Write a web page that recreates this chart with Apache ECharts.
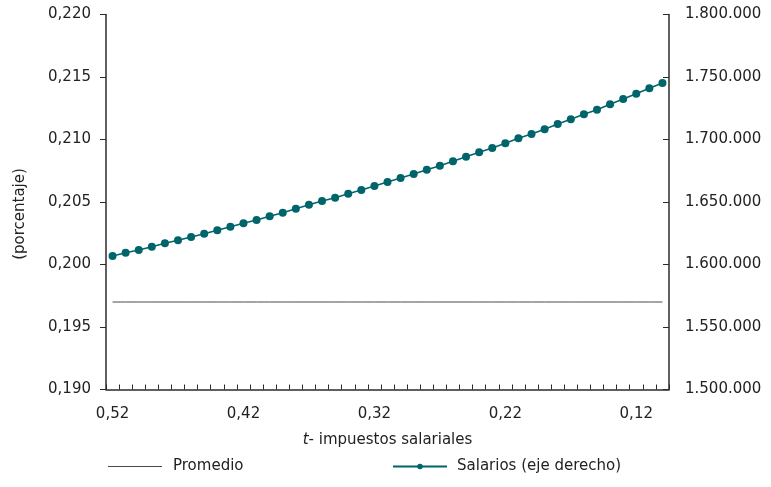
<!DOCTYPE html>
<html>
<head>
<meta charset="utf-8">
<script src="https://cdn.jsdelivr.net/npm/echarts@6/dist/echarts.min.js"></script>
<style>
  html, body { margin: 0; padding: 0; background: #fff; }
  #chart { width: 771px; height: 487px; }
</style>
</head>
<body>
<div id="chart"></div>
<script>
// tax rate categories (t), read right-to-left from 0,52 down to 0,10
var tasas = [
  "0,52", "0,51", "0,50", "0,49", "0,48", "0,47", "0,46", "0,45", "0,44", "0,43",
  "0,42", "0,41", "0,40", "0,39", "0,38", "0,37", "0,36", "0,35", "0,34", "0,33",
  "0,32", "0,31", "0,30", "0,29", "0,28", "0,27", "0,26", "0,25", "0,24", "0,23",
  "0,22", "0,21", "0,20", "0,19", "0,18", "0,17", "0,16", "0,15", "0,14", "0,13",
  "0,12", "0,11", "0,10"
];

// "Promedio" - flat reference level (left axis)
var promedio = [
  0.197, 0.197, 0.197, 0.197, 0.197, 0.197, 0.197, 0.197, 0.197, 0.197,
  0.197, 0.197, 0.197, 0.197, 0.197, 0.197, 0.197, 0.197, 0.197, 0.197,
  0.197, 0.197, 0.197, 0.197, 0.197, 0.197, 0.197, 0.197, 0.197, 0.197,
  0.197, 0.197, 0.197, 0.197, 0.197, 0.197, 0.197, 0.197, 0.197, 0.197,
  0.197, 0.197, 0.197
];

// "Salarios (eje derecho)" - right axis
var salarios = [
  1606800, 1609400, 1611600, 1614200, 1617000, 1619400, 1622000, 1624600, 1627400, 1630200,
  1633000, 1635600, 1638600, 1641400, 1644600, 1647800, 1650800, 1653400, 1656600, 1659600,
  1662800, 1666000, 1669200, 1672400, 1675800, 1679000, 1682600, 1686200, 1689800, 1693200,
  1697000, 1701000, 1704400, 1708200, 1712400, 1716200, 1720200, 1723800, 1728200, 1732400,
  1736600, 1741000, 1745200
];

var FONT = "DejaVu Sans";
var AXIS_COLOR = "#2b2b2b";
var TEAL = "#00656a";
var GREY = "#4a4a4a";

function fmtPct(v) {
  return v.toFixed(3).replace(".", ",");
}
function fmtMiles(v) {
  return String(Math.round(v)).replace(/\B(?=(\d{3})+(?!\d))/g, ".");
}

var chart = echarts.init(document.getElementById("chart"));

var option = {
  backgroundColor: "#fff",
  animation: false,
  textStyle: { fontFamily: FONT, color: "#222" },
  grid: { left: 106, right: 102, top: 14.5, bottom: 97.5 },
  legend: [
    {
      left: 103,
      top: 454,
      icon: "rect",
      itemWidth: 54,
      itemHeight: 1.2,
      data: ["Promedio"],
      textStyle: { fontFamily: FONT, fontSize: 15, color: "#222", padding: [0, 0, 0, 6] }
    },
    {
      left: 387,
      top: 454,
      itemWidth: 54,
      itemHeight: 7,
      data: ["Salarios (eje derecho)"],
      textStyle: { fontFamily: FONT, fontSize: 15, color: "#222", padding: [0, 0, 0, 5] }
    }
  ],
  graphic: [
    {
      type: "text",
      x: 20,
      y: 214,
      rotation: Math.PI / 2,
      style: {
        text: "(porcentaje)",
        fontFamily: FONT,
        fontSize: 15,
        fill: "#222",
        align: "center",
        verticalAlign: "middle"
      }
    }
  ],
  xAxis: {
    type: "category",
    data: tasas,
    boundaryGap: true,
    name: "{i|t}- impuestos salariales",
    nameLocation: "middle",
    nameGap: 43,
    nameTextStyle: {
      fontFamily: FONT,
      fontSize: 15,
      color: "#222",
      rich: {
        i: { fontStyle: "italic", fontFamily: FONT, fontSize: 15, color: "#222" }
      }
    },
    axisLine: { lineStyle: { color: AXIS_COLOR, width: 1.5 } },
    axisTick: { show: true, inside: true, length: 5, interval: 0, lineStyle: { color: AXIS_COLOR, width: 1 } },
    axisLabel: { interval: 9, margin: 17, fontSize: 15, color: "#222", fontFamily: FONT },
    splitLine: { show: false }
  },
  yAxis: [
    {
      type: "value",
      min: 0.19,
      max: 0.22,
      interval: 0.005,
      axisLine: { show: true, lineStyle: { color: AXIS_COLOR, width: 1.5 } },
      axisTick: { show: true, length: 6, lineStyle: { color: AXIS_COLOR } },
      axisLabel: { margin: 15, fontSize: 15, color: "#222", fontFamily: FONT, formatter: fmtPct },
      splitLine: { show: false }
    },
    {
      type: "value",
      position: "right",
      min: 1500000,
      max: 1800000,
      interval: 50000,
      axisLine: { show: true, lineStyle: { color: AXIS_COLOR, width: 1.5 } },
      axisTick: { show: true, inside: true, length: 6, lineStyle: { color: AXIS_COLOR } },
      axisLabel: { margin: 16, fontSize: 15, color: "#222", fontFamily: FONT, formatter: fmtMiles },
      splitLine: { show: false }
    }
  ],
  series: [
    {
      name: "Promedio",
      type: "line",
      yAxisIndex: 0,
      data: promedio,
      symbol: "none",
      lineStyle: { color: GREY, width: 1 },
      itemStyle: { color: GREY }
    },
    {
      name: "Salarios (eje derecho)",
      type: "line",
      yAxisIndex: 1,
      data: salarios,
      symbol: "circle",
      symbolSize: 8,
      lineStyle: { color: TEAL, width: 1.5 },
      itemStyle: { color: TEAL, borderWidth: 0 }
    }
  ]
};

chart.setOption(option);
</script>
</body>
</html>
